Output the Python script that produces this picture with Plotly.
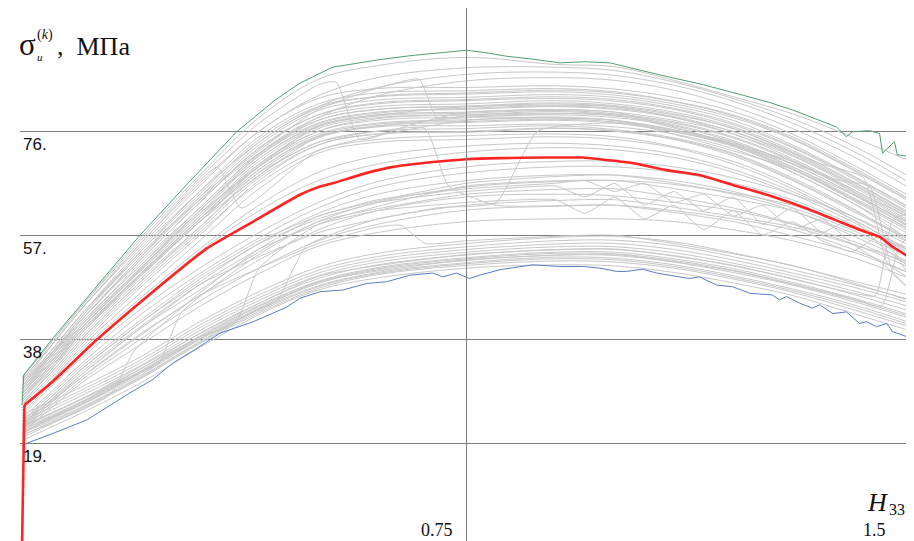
import plotly.graph_objects as go

# ---------------- data ----------------
XG = [0.0, 0.05, 0.1, 0.2, 0.3, 0.4, 0.5, 0.6, 0.75, 0.9, 1.0, 1.1, 1.2, 1.3, 1.4, 1.5]

UPPER = [
    [25, 30.5, 36.5, 46.5, 56, 65.5, 72, 74, 74.5, 75, 74.5, 73, 70, 65.5, 60, 54],
    [26, 31.5, 37.5, 48, 57.5, 66.5, 72.5, 74.5, 75.2, 75.5, 75, 73.2, 70.5, 66, 60.5, 55],
    [25.5, 31, 37, 47.5, 57, 67, 73.5, 75.5, 75.8, 76.5, 76, 74.5, 71.5, 67, 61.5, 56],
    [26.5, 32, 38, 48.5, 58, 67.5, 73.5, 75.5, 76, 76.6, 76.1, 74.6, 71.8, 67.2, 61.8, 56.2],
    [27, 32.5, 38.5, 49, 58.5, 68, 74, 76, 76.5, 77, 76.3, 74.8, 72, 67.5, 62, 55.5],
    [26.5, 32, 38, 48.5, 58.5, 68.5, 74.8, 76.8, 77, 77.3, 76.8, 75.5, 72.8, 68.5, 63, 57],
    [27.5, 33, 39, 49.5, 59.5, 69, 75, 77, 77.6, 78, 77.5, 76, 73.2, 69, 63.5, 57.5],
    [27.5, 33.5, 39.5, 50, 59.5, 69, 75.2, 77.3, 77.8, 78.2, 77.7, 76.2, 73.4, 69.2, 63.8, 57.8],
    [26, 32.5, 39, 50, 60, 69.5, 75.5, 77.5, 78.1, 78.6, 78, 76.3, 73.5, 69.5, 64, 58.5],
    [28, 34, 40, 50.5, 60.5, 70, 76, 78, 78.6, 79, 78.5, 77, 74, 69.5, 64.5, 59],
    [27, 33, 39, 49.5, 59.5, 69.5, 76, 78.3, 79, 79.3, 78.8, 77.2, 74.3, 70, 64.6, 58.2],
    [27, 33, 39.5, 50, 60, 70, 76.5, 78.5, 79, 79.6, 79, 77.5, 74.8, 70.5, 65, 58.5],
    [28, 34, 40, 50.5, 60.5, 70.5, 76.8, 78.8, 79.3, 79.8, 79.2, 77.7, 75, 70.7, 65.2, 59.2],
    [28.5, 34.5, 40.5, 51, 61, 71, 77, 79, 79.5, 80, 79.5, 78, 75.5, 71, 65.5, 59.5],
    [27.5, 33.5, 40, 51, 61.5, 71.5, 77.5, 79.5, 80, 80.5, 80, 78.5, 75.5, 71.5, 66, 60],
    [28, 34.5, 40.5, 51, 61.5, 71, 77.3, 79.3, 80.2, 80.6, 80.2, 78.7, 75.9, 71.7, 66.3, 60.3],
    [29, 35, 41, 51.5, 61.5, 71.5, 78, 80, 80.5, 81, 80.5, 79, 76.5, 72, 66.5, 60.5],
    [28.5, 34.5, 41, 51.5, 62, 71.8, 78, 80, 80.6, 81.2, 80.7, 79.2, 76.5, 72.2, 66.8, 60.8],
    [28, 34, 40.5, 52, 62, 72, 78.5, 80.5, 81, 81.6, 81, 79.5, 76.8, 72.5, 67, 61],
    [29.5, 35.5, 41.5, 52.5, 63, 73, 79, 81, 81.6, 82, 81.5, 80, 77.2, 73, 67.5, 61.5],
    [29, 35, 41.5, 52.5, 63, 72.8, 79, 81.2, 81.8, 82.3, 81.8, 80.2, 77.5, 73.2, 67.8, 61.8],
    [28.5, 35, 41.5, 53, 63.5, 73.5, 79.8, 81.7, 82.2, 82.7, 82.2, 80.6, 78, 73.5, 68, 62],
    [30, 36, 42.5, 54, 64.5, 74.5, 80.5, 82.3, 82.8, 83.2, 82.6, 81, 78.5, 74.5, 69, 63],
    [29.5, 36, 42.5, 53.5, 64, 74, 80.2, 82.4, 83, 83.5, 83, 81.4, 78.8, 74.7, 69.2, 63.2],
    [29, 35.5, 42, 54, 65, 75, 81, 83, 83.4, 83.8, 83.2, 81.5, 79, 75, 69.5, 63.5],
    [30.5, 37, 43.5, 55, 66, 76, 82, 83.8, 84, 84.3, 83.7, 82.2, 79.6, 75.5, 70, 64],
]

ABOVE = [
    [29.5, 35.5, 42, 53.5, 63.5, 72, 78.5, 82.5, 85.2, 85.8, 85.3, 83.5, 80.5, 76.5, 71.5, 65.5],
    [30, 36, 42.5, 54.5, 65, 74, 80.5, 84, 86.4, 86.8, 86.2, 84.4, 81.5, 77.5, 72.5, 66.5],
    [30.5, 37, 43.5, 55.5, 66.5, 76, 82.5, 85.8, 87.6, 87.7, 87.1, 85, 82, 78.3, 73.5, 67.5],
    [31, 37.5, 44, 56.5, 68, 78.5, 85.5, 88, 89.5, 88.2, 87.8, 85.3, 82.3, 79.2, 75, 70.5],
]

MIDDLE = [
    [25, 30.5, 36, 45.5, 54.5, 62.5, 68.5, 71.5, 73.3, 73.8, 73.3, 71.8, 69, 65, 60, 54],
    [24.5, 30, 35.5, 45, 54, 61.5, 67, 70, 72.2, 73, 72.6, 71.2, 68.5, 64.5, 59.5, 53.5],
    [24, 29.5, 34.5, 43.5, 51, 57.5, 63, 66.8, 69.5, 70.5, 70.5, 69.5, 67.5, 64.5, 60.5, 55.5],
    [23.5, 28.5, 33.5, 42.5, 50, 56.5, 62, 65.8, 68.4, 69.5, 69.5, 68.5, 66.5, 63.5, 59, 54],
    [23, 27.5, 32.5, 41, 48.5, 55.5, 61, 64.5, 67, 68, 68, 67, 65, 62, 58, 53],
    [22.5, 27, 31.5, 40, 47, 54, 59.5, 63, 65.8, 66.8, 67, 66.3, 64.5, 61.5, 57, 52],
    [22, 26.5, 31, 39, 46, 52.5, 58, 61.5, 64, 64.5, 64.2, 63, 61.5, 59, 55.5, 51],
    [21.5, 26, 30.5, 38, 45, 51, 56, 59, 61.6, 62.3, 62.5, 61.5, 60, 58, 54.5, 50],
    [21, 25.5, 30, 37, 44, 50, 55, 57.5, 59.5, 60, 60, 59.5, 58, 56, 53, 49],
]

LOWER = [
    [19.5, 22, 24.5, 30, 36.5, 42.5, 47, 49.2, 51, 51.6, 51.4, 50.2, 48.3, 46, 42.8, 39.5],
    [20, 22.6, 25.2, 30.8, 37.2, 42.8, 47.3, 49.8, 51.5, 52.3, 52.1, 51, 49, 46.6, 43.5, 40.2],
    [20.4, 22.9, 25.4, 31, 37.4, 43.1, 47.6, 50, 51.8, 52.7, 52.5, 51.3, 49.3, 46.9, 44, 40.6],
    [20.8, 23.2, 25.6, 31.2, 37.6, 43.4, 47.8, 50.2, 52, 53, 52.8, 51.6, 49.6, 47.2, 44.4, 41],
    [21, 23.6, 26.2, 31.8, 38.2, 43.7, 48.2, 50.7, 52.4, 53.4, 53.3, 52.1, 50.2, 47.9, 45, 41.8],
    [21.4, 23.9, 26.4, 32, 38.4, 44, 48.4, 50.9, 52.7, 53.7, 53.6, 52.4, 50.6, 48.1, 45.3, 42.1],
    [21.8, 24.1, 26.6, 32.2, 38.6, 44.2, 48.6, 51.1, 52.9, 53.9, 53.9, 52.7, 50.9, 48.4, 45.6, 42.4],
    [22.2, 24.6, 27.1, 32.6, 39.1, 44.6, 49.1, 51.6, 53.4, 54.4, 54.4, 53.3, 51.4, 49.1, 46.3, 43.1],
    [22.6, 25.1, 27.7, 33.2, 39.6, 45.1, 49.6, 52.1, 53.9, 54.9, 54.9, 53.8, 51.9, 49.6, 46.9, 43.9],
    [23.1, 25.6, 28.2, 33.7, 40.1, 45.6, 50.1, 52.6, 54.4, 55.4, 55.5, 54.4, 52.5, 50.1, 47.6, 44.6],
    [23.6, 26.1, 28.7, 34.2, 40.6, 46.1, 50.6, 53.1, 54.9, 56, 56.1, 55.1, 53.1, 50.7, 48.1, 45.2],
    [24.2, 26.7, 29.3, 34.8, 41.2, 46.7, 51.2, 53.7, 55.5, 56.6, 56.8, 55.8, 53.8, 51.4, 48.7, 46],
]

XZ = [0, 0.1, 0.2, 0.3, 0.4, 0.5, 0.6, 0.75, 0.9, 0.95, 1.0, 1.05, 1.1,
      1.15, 1.2, 1.25, 1.3, 1.35, 1.4, 1.45, 1.5]
ZIGZAG = [
    [22.5, 32.5, 41, 49, 55.5, 60, 63, 65, 66, 64, 66.5, 62.5, 65, 61.5, 64, 59, 62, 57.5, 60, 55, 51],
    [21.5, 31.5, 40, 48, 54.5, 59, 61.5, 63, 63.5, 61, 64, 60, 62.5, 58, 61.5, 57, 59.5, 56, 54, 57, 49],
    [23, 33, 41.5, 49.5, 56, 60.5, 63.5, 65.5, 66.5, 67, 65, 66.5, 63, 64.5, 60.5, 62.5, 58, 60, 55.5, 52, 47],
]

JUMP_X = [
    [0, 0.1, 0.2, 0.23, 0.27, 0.4, 0.5, 0.75, 1.0, 1.2, 1.4, 1.5],
    [0, 0.1, 0.3, 0.36, 0.4, 0.5, 0.75, 1.0, 1.3, 1.5],
    [0, 0.1, 0.2, 0.3, 0.33, 0.37, 0.5, 0.75, 1.0, 1.3, 1.5],
    [0, 0.1, 0.2, 0.3, 0.4, 0.5, 0.53, 0.57, 0.65, 0.75, 1.0, 1.3, 1.5],
    [0, 0.1, 0.2, 0.3, 0.4, 0.5, 0.6, 0.68, 0.72, 0.8, 1.0, 1.2, 1.4, 1.5],
    [0, 0.1, 0.3, 0.5, 0.7, 0.8, 0.87, 1.0, 1.2, 1.4, 1.5],
    [0, 0.1, 0.2, 0.3, 0.4, 0.43, 0.48, 0.6, 0.75, 1.0, 1.3, 1.5],
    [0, 0.1, 0.15, 0.19, 0.3, 0.4, 0.5, 0.75, 1.0, 1.3, 1.5],
    [0, 0.1, 0.3, 0.5, 0.75, 1.0, 1.2, 1.35, 1.42, 1.46, 1.5],
    [0, 0.1, 0.3, 0.5, 0.75, 1.0, 1.2, 1.4, 1.44, 1.47, 1.5],
    [0, 0.1, 0.3, 0.5, 0.62, 0.67, 0.7, 0.75, 1.0, 1.3, 1.5],
    [0, 0.1, 0.3, 0.5, 0.6, 0.64, 0.68, 0.75, 1.0, 1.3, 1.5],
    [0, 0.1, 0.3, 0.5, 0.75, 1.0, 1.2, 1.38, 1.43, 1.47, 1.5],
    [0, 0.1, 0.3, 0.5, 0.75, 1.0, 1.2, 1.4, 1.45, 1.48, 1.5],
]
JUMP_Y = [
    [22, 27, 32, 33.5, 43, 53.5, 59.5, 64.5, 65.5, 62, 56, 51.5],
    [21, 26.5, 38.5, 41, 51, 59, 66, 67, 61.5, 53],
    [30, 43.5, 55.5, 67, 69.5, 62, 72.5, 78, 78, 69, 58],
    [31, 44, 56, 67.5, 77.5, 84.5, 85, 74.5, 77, 79.5, 79.5, 70, 59],
    [27, 39, 50, 60, 68.5, 74, 76, 76.5, 66, 62.5, 62.5, 59.5, 54, 50],
    [22, 32, 48, 57.5, 62, 63, 76, 77.5, 73.5, 63, 56],
    [21.5, 26, 31.5, 38, 43.5, 45, 55, 60, 62.5, 63.5, 58.5, 52],
    [20.5, 25, 28, 36, 46.5, 54.5, 60.5, 66.5, 68, 62.5, 54.5],
    [28, 40, 61, 77, 80.5, 80.5, 76, 70, 67.5, 52, 49],
    [22, 27, 39, 49.5, 53.5, 54.5, 51.5, 46.5, 46, 60, 61],
    [29, 41.5, 64, 80, 84.5, 85.5, 78.5, 78.8, 79, 70.5, 60],
    [22.5, 31, 46, 55.5, 58.5, 58.8, 55.5, 56, 57, 51.5, 45],
    [27.5, 39.5, 59.5, 75, 78.5, 78, 74, 67, 66, 50, 47],
    [21, 26, 38, 48.5, 52.5, 53.5, 50.5, 45.5, 44, 55, 57],
]

MAX_X = [0, 0.003, 0.052, 0.1, 0.199, 0.28, 0.363, 0.427, 0.469, 0.524, 0.598, 0.654,
         0.70, 0.75, 0.78, 0.818, 0.86, 0.907, 0.95, 0.992, 1.076, 1.15, 1.216, 1.26,
         1.300, 1.374, 1.391, 1.401, 1.413, 1.430, 1.447, 1.452, 1.472, 1.477, 1.499]
MAX_Y = [26, 31.5, 38.2, 44.3, 57, 66.5, 76, 81.7, 84.8, 87.7, 89.0, 89.8,
         90.3, 90.8, 90.4, 89.7, 89.2, 88.5, 88.7, 88.5, 86.3, 84.5, 82.6, 81.3,
         79.9, 76.8, 75.0, 75.9, 76.0, 76.1, 75.6, 72.0, 74.1, 71.7, 71.4]

MIN_X = [0, 0.008, 0.052, 0.11, 0.182, 0.22, 0.255, 0.29, 0.334, 0.39, 0.447, 0.469,
         0.503, 0.541, 0.582, 0.615, 0.654, 0.693, 0.710, 0.733, 0.755, 0.772, 0.806,
         0.862, 0.907, 0.946, 0.975, 1.003, 1.020, 1.047, 1.071, 1.126, 1.143, 1.172,
         1.199, 1.228, 1.266, 1.278, 1.290, 1.312, 1.334, 1.346, 1.368, 1.391, 1.413,
         1.425, 1.442, 1.459, 1.469, 1.5]
MIN_Y = [18.5, 19.0, 20.8, 23.3, 28.2, 30.6, 33.7, 36.0, 39.1, 41.2, 43.9, 45.5,
         46.7, 47.0, 48.2, 48.5, 49.7, 50.1, 49.4, 50.1, 49.1, 49.7, 50.7,
         51.6, 51.3, 51.3, 51.0, 50.4, 50.4, 50.8, 50.1, 49.1, 49.4, 47.9,
         47.6, 46.4, 46.1, 45.2, 45.8, 44.6, 43.7, 44.3, 42.7, 43.0, 40.9,
         41.2, 40.3, 40.9, 39.4, 38.2]

# mean curve: vertical start segment, then the smooth part
MEAN_START_X = [0, 0.004]
MEAN_START_Y = [0, 26.0]
MEAN_X = [0.004, 0.052, 0.126, 0.221, 0.312, 0.39, 0.469, 0.503, 0.524, 0.582, 0.626,
          0.693, 0.75, 0.806, 0.885, 0.946, 0.975, 1.03, 1.088, 1.143, 1.199, 1.266,
          1.324, 1.379, 1.413, 1.447, 1.469, 1.5]
MEAN_Y = [26.0, 30.3, 37.9, 46.7, 54.6, 59.5, 64.4, 65.9, 66.5, 68.4, 69.5,
          70.4, 70.9, 71.1, 71.2, 71.2, 70.9, 70.2, 68.9, 68.0, 66.2, 64.1,
          61.9, 59.5, 58.0, 56.7, 54.9, 52.8]

Y_TICKS = [19, 38, 57, 76]
Y_TICK_TEXT = ["19.", "38", "57.", "76."]
X_TICK_TEXT = ["0.75", "1.5"]

# ---------------- figure ----------------
GRAY = "#c8c8c8"
RED = "#ff2424"
fig = go.Figure()


def add_gray(xs, ys, smooth=1.0):
    fig.add_trace(go.Scatter(x=xs, y=ys, mode="lines",
                             line=dict(color=GRAY, width=1, shape="spline", smoothing=smooth),
                             hoverinfo="skip", showlegend=False))


for ys in LOWER + MIDDLE + UPPER + ABOVE:
    add_gray(XG, ys)
for ys in ZIGZAG:
    add_gray(XZ, ys, 0.4)
for xs, ys in zip(JUMP_X, JUMP_Y):
    add_gray(xs, ys, 0.5)

fig.add_trace(go.Scatter(x=MIN_X, y=MIN_Y, mode="lines",
                         line=dict(color="#5b7cc4", width=1), hoverinfo="skip", showlegend=False))
fig.add_trace(go.Scatter(x=MAX_X, y=MAX_Y, mode="lines",
                         line=dict(color="#4f9f6f", width=1), hoverinfo="skip", showlegend=False))
fig.add_trace(go.Scatter(x=MEAN_START_X, y=MEAN_START_Y, mode="lines",
                         line=dict(color=RED, width=2.6), hoverinfo="skip", showlegend=False))
fig.add_trace(go.Scatter(x=MEAN_X, y=MEAN_Y, mode="lines",
                         line=dict(color=RED, width=2.6, shape="spline", smoothing=0.5),
                         hoverinfo="skip", showlegend=False))

# the page body has an 8px margin: the figure sits at (8, 8) in the window
OFF = 8
W, H = 914 - OFF, 541 - OFF
L, R = 20, 911          # plot area edges in window pixels


def px(x):
    return (x - L) / (R - L)


def py(y):
    return 1 - (y - OFF) / H


ann = []
SANS = "Arial, Liberation Sans, sans-serif"
SERIF = "Times New Roman, Liberation Serif, serif"
for v, t in zip(Y_TICKS, Y_TICK_TEXT):
    ann.append(dict(x=0.0, y=v, xref="x", yref="y", text=t, showarrow=False,
                    xanchor="left", yanchor="top", yshift=-2, xshift=-1,
                    font=dict(family=SANS, size=17, color="#111")))
for right_px, t in zip([455, 888], X_TICK_TEXT):
    ann.append(dict(x=px(right_px), y=py(530), xref="paper", yref="paper", text=t,
                    showarrow=False, xanchor="right", yanchor="middle",
                    font=dict(family=SERIF, size=18, color="#111")))
ann += [
    dict(x=px(865), y=py(502), xref="paper", yref="paper", text="<i>H</i>", showarrow=False,
         xanchor="left", yanchor="middle", font=dict(family=SERIF, size=26, color="#111")),
    dict(x=px(887), y=py(509), xref="paper", yref="paper", text="33", showarrow=False,
         xanchor="left", yanchor="middle", font=dict(family=SERIF, size=16, color="#111")),
    dict(x=px(17), y=py(45), xref="paper", yref="paper", text="σ", showarrow=False,
         xanchor="left", yanchor="middle", font=dict(family=SERIF, size=31, color="#111")),
    dict(x=px(35), y=py(57), xref="paper", yref="paper", text="<i>u</i>", showarrow=False,
         xanchor="left", yanchor="middle", font=dict(family=SERIF, size=11, color="#111")),
    dict(x=px(35), y=py(35), xref="paper", yref="paper", text="(<i>k</i>)", showarrow=False,
         xanchor="left", yanchor="middle", font=dict(family=SERIF, size=14, color="#111")),
    dict(x=px(55), y=py(46), xref="paper", yref="paper", text=",  МПа", showarrow=False,
         xanchor="left", yanchor="middle", font=dict(family=SERIF, size=26, color="#111")),
]

fig.update_layout(
    width=W, height=H,
    margin=dict(l=L - OFF, r=W - (R - OFF), t=0, b=0),
    paper_bgcolor="white", plot_bgcolor="white",
    showlegend=False,
    xaxis=dict(range=[-0.0034, 1.5], showgrid=False, zeroline=False, showline=False,
               showticklabels=False, ticks=""),
    yaxis=dict(range=[1.15, 98.52], tickvals=Y_TICKS, showgrid=True, gridcolor="#7d7d7d",
               gridwidth=1, zeroline=False, showline=False, showticklabels=False, ticks=""),
    annotations=ann,
    shapes=[dict(type="line", xref="x", yref="paper", x0=0.75, x1=0.75, y0=0, y1=1,
                 line=dict(color="#7d7d7d", width=1), layer="above")],
)

fig.write_html("out.html")
